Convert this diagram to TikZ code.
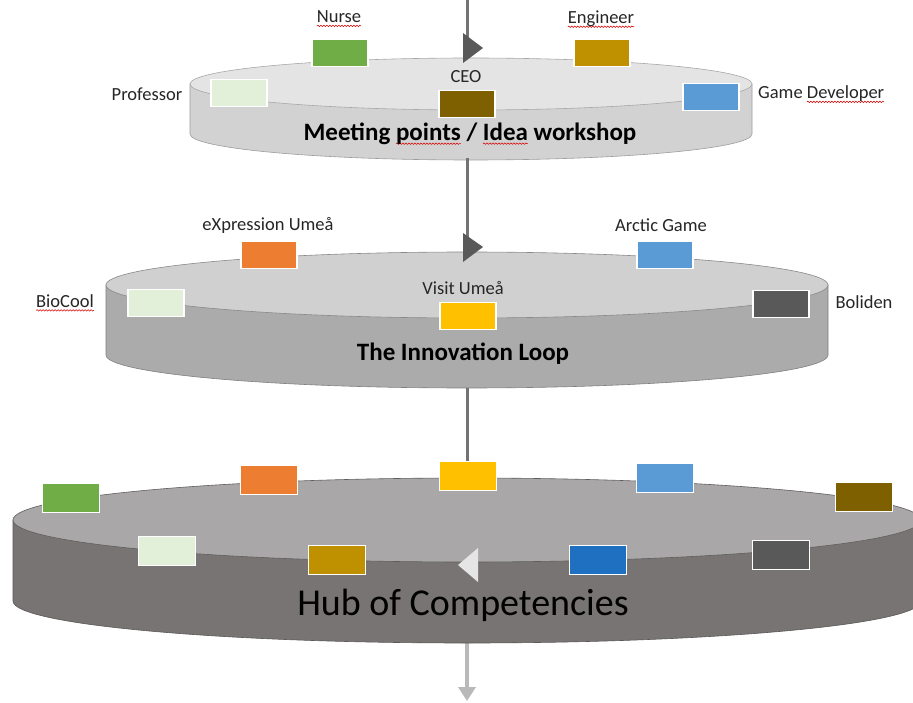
\documentclass[tikz,border=0pt]{standalone}
\usepackage{fontspec}
\setmainfont{Carlito}
\usetikzlibrary{decorations.pathmorphing,arrows.meta}
\definecolor{cgreen}{HTML}{70AD47}
\definecolor{cgold}{HTML}{BF9000}
\definecolor{cdgold}{HTML}{7F6000}
\definecolor{clgreen}{HTML}{E2EFD9}
\definecolor{cblue}{HTML}{5B9BD5}
\definecolor{cdblue}{HTML}{1F70C1}
\definecolor{corange}{HTML}{ED7D31}
\definecolor{cyellow}{HTML}{FFC000}
\definecolor{cdgray}{HTML}{595959}
\definecolor{txt}{HTML}{262626}
\definecolor{topA}{HTML}{E4E4E4}
\definecolor{sideA}{HTML}{D2D2D2}
\definecolor{topB}{HTML}{D0D0D0}
\definecolor{sideB}{HTML}{ABABAB}
\definecolor{topC}{HTML}{A9A7A7}
\definecolor{sideC}{HTML}{787474}
\newdimen\wvlen
\newcommand\wv[1]{\setbox0=\hbox{#1}\wvlen=\wd0\relax\rlap{\tikz[overlay,baseline=0pt,x=1pt,y=1pt]\draw[red!85!black,line width=0.55pt,decorate,decoration={snake,amplitude=0.7pt,segment length=3pt}] (0pt,-3pt) -- (\wvlen,-3pt);}\box0\relax}
\newcommand\diskdraw[7]{%
  \filldraw[fill=#7, draw=#7!75!black, line width=0.6pt] (#1-#3,#2) -- (#1-#3,#2+#5) arc[start angle=180,end angle=0,x radius=#3,y radius=#4] -- (#1+#3,#2) -- cycle;
  \filldraw[fill=#6, draw=#7!80!black, line width=0.6pt] (#1,#2) ellipse[x radius=#3, y radius=#4];}
\tikzset{
  box/.style={draw=white, line width=1.4pt, minimum width=56pt, minimum height=27pt, inner sep=0pt},
  bbox/.style={box, minimum width=57pt, minimum height=29pt},
  lbl/.style={text=txt, font=\fontsize{18.5}{22}\selectfont, inner sep=0pt},
  ttl/.style={text=black, font=\fontsize{25}{30}\selectfont\bfseries, inner sep=0pt},
  flow/.style={draw=gray!90!black, line width=3pt},
  tri/.style={fill=cdgray, draw=none}
}
\begin{document}
\begin{tikzpicture}[x=1pt,y=-1pt]
\useasboundingbox (0,0) rectangle (913,703);
\clip (0,0) rectangle (913,703);
\fill[white] (0,0) rectangle (913,703);
% flow coordinates
\coordinate (f0) at (467,0);
\coordinate (f1) at (467,642);
\coordinate (f2) at (467,701);
\draw[flow] (f0) -- (f1);
\draw[draw=gray!55, line width=3.5pt, -{Triangle[length=14pt,width=17pt]}] (f1) -- (f2);
% disks
\diskdraw{467}{520}{454}{42}{81}{topC}{sideC}
\diskdraw{467}{285}{361}{33}{70}{topB}{sideB}
\diskdraw{471}{84}{281}{26}{50}{topA}{sideA}
\draw[flow] (467,158) -- (467,252);
\draw[flow] (467,388) -- (467,478);
% direction triangles
\fill[tri] (463,33) -- (463,63) -- (483,48) -- cycle;
\fill[tri] (463,233) -- (463,262) -- (483,247) -- cycle;
\fill[gray!20] (478,548) -- (478,582) -- (458,565) -- cycle;
% top disk
\node[box, fill=cgreen] (nurse) at (340,53) {};
\node[box, fill=cgold] (eng) at (602,53) {};
\node[box, fill=clgreen] (prof) at (239,93) {};
\node[box, fill=cdgold] (ceo) at (467,104) {};
\node[box, fill=cblue] (gdev) at (711,97) {};
\node[lbl] (lnurse) at (339,17) {\wv{Nurse}};
\node[lbl] (leng) at (601,19) {\wv{Engineer}};
\node[lbl] (lprof) at (147,94) {Professor};
\node[lbl] (lceo) at (466,77) {CEO};
\node[lbl, anchor=west] (lgdev) at (758,94) {Game \wv{Developer}};
\node[ttl] (t1) at (470,134) {Meeting \wv{points} / \wv{Idea} workshop};
% middle disk
\node[box, fill=corange] (expr) at (269,255) {};
\node[box, fill=cblue] (arctic) at (665,255) {};
\node[box, fill=clgreen] (biocool) at (156,303) {};
\node[box, fill=cyellow] (visit) at (468,316) {};
\node[box, fill=cdgray] (boliden) at (781,304) {};
\node[lbl] (lexpr) at (268,225) {eXpression Umeå};
\node[lbl] (larctic) at (661,225) {Arctic Game};
\node[lbl] (lbio) at (65,301) {\wv{BioCool}};
\node[lbl] (lvisit) at (463,288) {Visit Umeå};
\node[lbl] (lbol) at (864,302) {Boliden};
\node[ttl] (t2) at (463,354) {The Innovation Loop};
% bottom disk
\node[bbox, fill=cgreen] (b1) at (71,498) {};
\node[bbox, fill=corange] (b2) at (269,480) {};
\node[bbox, fill=cyellow] (b3) at (468,476) {};
\node[bbox, fill=cblue] (b4) at (665,478) {};
\node[bbox, fill=cdgold] (b5) at (864,497) {};
\node[bbox, fill=clgreen] (b6) at (167,551) {};
\node[bbox, fill=cgold] (b7) at (337,560) {};
\node[bbox, fill=cdblue] (b8) at (598,560) {};
\node[bbox, fill=cdgray] (b9) at (781,555) {};
\node[text=black, font=\fontsize{38}{44}\selectfont, inner sep=0pt] (t3) at (463,605) {Hub of Competencies};
\end{tikzpicture}
\end{document}
